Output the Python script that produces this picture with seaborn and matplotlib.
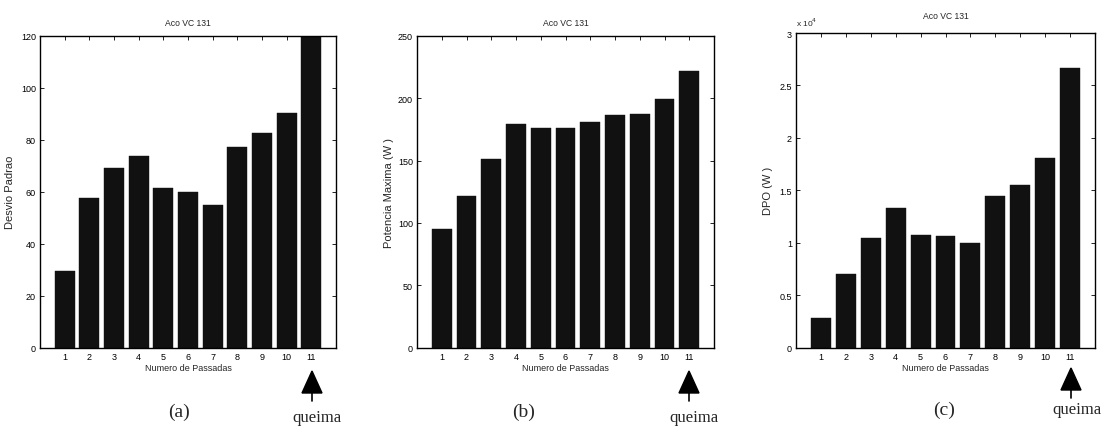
import matplotlib
matplotlib.use("Agg")
import matplotlib.pyplot as plt
import matplotlib.patches as mpatches
import matplotlib.ticker as mticker
import seaborn as sns
import pandas as pd
import numpy as np

sns.set_style("white")
plt.rcParams['font.family'] = ['Liberation Sans', 'DejaVu Sans']

passes = [1, 2, 3, 4, 5, 6, 7, 8, 9, 10, 11]
desvio_padrao = [29.6, 57.6, 69.1, 73.6, 61.4, 59.9, 55.0, 77.2, 82.8, 90.5, 120.0]
potencia_maxima = [95.4, 121.8, 150.9, 179.5, 176.0, 176.5, 181.1, 186.7, 187.5, 199.5, 222.2]
dpo = [2830, 7000, 10400, 13270, 10750, 10590, 9960, 14440, 15530, 18100, 26660]

title = "Aco VC 131"
xlabel = "Numero de Passadas"
ylabels = ["Desvio Padrao", "Potencia Maxima (W )", "DPO (W )"]
ylims = [(0, 120), (0, 250), (0, 30000)]
yticks = [[0, 20, 40, 60, 80, 100, 120], [0, 50, 100, 150, 200, 250],
          [0, 5000, 10000, 15000, 20000, 25000, 30000]]
panel_letters = ["(a)", "(b)", "(c)"]

W, H = 1114, 431
fig = plt.figure(figsize=(W / 100, H / 100), dpi=100)

def fx(x):
    return x / W

def fy(y):
    return 1 - y / H

# axes boxes in pixels: left, top, right, bottom
boxes = [(40, 37, 336, 348.5), (417, 37, 714, 348.5), (796, 34, 1095, 348.5)]
series = [desvio_padrao, potencia_maxima, dpo]
letter_pos = [(179, 412), (524, 412), (944, 410)]
arrow_x = [312, 689, 1071]
queima_pos = [(317, 418), (694, 418), (1077, 410)]
arrow_tip_y = [372, 372, 369]
ylabel_x = [15, 394, 773]

for i in range(3):
    l, t, r, b = boxes[i]
    ax = fig.add_axes([fx(l), fy(b), fx(r) - fx(l), fy(t) - fy(b)])
    df = pd.DataFrame({"passes": passes, "value": series[i]})
    sns.barplot(data=df, x="passes", y="value", native_scale=True, width=0.8,
                color="#111111", saturation=1, edgecolor="#111111", linewidth=0.3, ax=ax)
    ax.set_xlim(0, 12)
    ax.set_ylim(*ylims[i])
    ax.set_xticks(passes)
    ax.set_yticks(yticks[i])
    if i == 2:
        ax.yaxis.set_major_formatter(mticker.FuncFormatter(lambda v, p: f"{v/1e4:g}"))
        ax.text(0.0, 1.015, r"x 10$^4$", transform=ax.transAxes, fontsize=6,
                ha="left", va="bottom")
    ax.tick_params(direction="in", length=3, width=0.6, labelsize=6.5, pad=3,
                   top=True, right=True, bottom=True, left=True, colors="black")
    for s in ax.spines.values():
        s.set_visible(True)
        s.set_color("black")
        s.set_linewidth(1.0)
    ax.set_xlabel(xlabel, fontsize=6.5, labelpad=2)
    ax.set_ylabel(ylabels[i], fontsize=8)
    ax.yaxis.set_label_coords((ylabel_x[i] - l) / (r - l), 0.5)
    ax.set_title(title, fontsize=6.2, pad=8 if i < 2 else 11)

    # panel letter
    fig.text(fx(letter_pos[i][0]), fy(letter_pos[i][1]), panel_letters[i],
             family="Liberation Serif", fontsize=14, ha="center", va="center")
    # arrow
    ax_ = arrow_x[i]
    ty = arrow_tip_y[i]
    tri = mpatches.Polygon([(fx(ax_), fy(ty)), (fx(ax_ - 10), fy(ty + 22)),
                            (fx(ax_ + 10), fy(ty + 22))], closed=True,
                           facecolor="black", edgecolor="black",
                           transform=fig.transFigure)
    fig.add_artist(tri)
    fig.add_artist(plt.Line2D([fx(ax_), fx(ax_)], [fy(ty + 21), fy(ty + 30)],
                              color="black", lw=1.2, transform=fig.transFigure))
    fig.text(fx(queima_pos[i][0]), fy(queima_pos[i][1]), "queima",
             family="Liberation Serif", fontsize=12, ha="center", va="center")

fig.savefig("out.png", dpi=100)
